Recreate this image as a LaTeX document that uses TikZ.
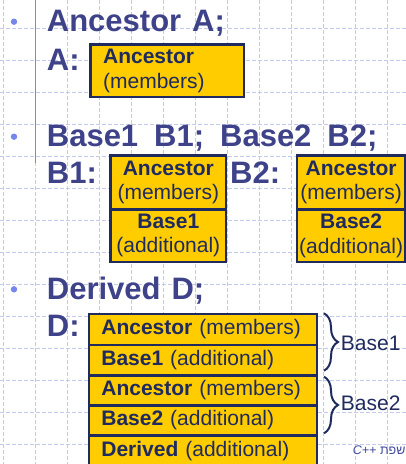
\documentclass[tikz,border=0pt]{standalone}
\usepackage{fontspec}
\setmainfont{Liberation Sans}
\newfontfamily\headfont{Liberation Sans}
\newfontfamily\hebfont[Script=Hebrew]{Liberation Sans}
\TeXXeTstate=1
\usetikzlibrary{decorations.pathreplacing}

% heading faces with adjusted word spacing
\newcommand\headnarrow{\headfont\fontsize{31}{31}\selectfont\bfseries\spaceskip=11pt\relax}
\newcommand\headwide{\headfont\fontsize{31}{31}\selectfont\bfseries\spaceskip=16pt\relax}

\definecolor{gridc}{HTML}{C3CAEC}
\definecolor{headc}{HTML}{3E4289}
\definecolor{navy}{HTML}{1F2A5E}
\definecolor{boxfill}{HTML}{FFCC00}
\definecolor{rulec}{HTML}{7B87E6}
\definecolor{dotc}{HTML}{7587EA}
\definecolor{footc}{HTML}{3F4A9E}

\tikzset{
  gridline/.style={draw=gridc, line width=1pt, dash pattern=on 4pt off 2pt},
  heading/.style={anchor=base west, inner sep=0pt, text=headc, font=\headnarrow},
  wideheading/.style={heading, font=\headwide},
  bulletdot/.style={fill=dotc, draw=none},
  cell/.style={draw=navy, line width=2.3pt, fill=boxfill, text=navy,
    inner sep=0pt, anchor=north west, font=\fontsize{21}{24.5}\selectfont},
  stackcell/.style={cell, align=center},
  rowcell/.style={cell, text width=203pt, align=left, minimum width=228pt},
  brace/.style={draw=navy, line width=2pt,
    decorate, decoration={brace, amplitude=14pt}},
  bracelabel/.style={anchor=base west, inner sep=0pt, text=navy,
    font=\fontsize{21}{21}\selectfont},
  footer/.style={anchor=base west, inner sep=0pt, text=footc,
    font=\hebfont\fontsize{12.5}{12.5}\selectfont},
}

\begin{document}
\begin{tikzpicture}[x=1pt, y=-1pt]
  \useasboundingbox (0,0) rectangle (406,464);
  \clip (0,0) rectangle (406,464);

  % background ruled grid
  \foreach \gx in {3.3,35.3,...,403.3}
    \draw[gridline] (\gx,0) -- (\gx,464);
  \foreach \gy in {28.3,60.3,...,460.3}
    \draw[gridline] (0,\gy) -- (406,\gy);

  % margin rule
  \draw[draw=rulec, line width=1.5pt] (35.3,0) -- (35.3,163);

  % bullets
  \fill[bulletdot] (14,21.7) circle (3.2pt);
  \fill[bulletdot] (14,136.7) circle (3.2pt);
  \fill[bulletdot] (14,289.3) circle (3.2pt);

  % headings and labels
  \node[heading] (h1) at (46.7,31.7) {Ancestor A;};
  \node[heading] (la) at (46.7,70) {A:};
  \node[wideheading] (h2) at (46.7,146) {Base1 B1; Base2 B2;};
  \node[heading] (lb1) at (46.7,183.3) {B1:};
  \node[heading] (lb2) at (230,183.3) {B2:};
  \node[heading] (h3) at (46.7,299.3) {Derived D;};
  \node[heading] (ld) at (46.7,336.7) {D:};

  % object A
  \node[cell, minimum width=153.4pt, minimum height=52.7pt,
        text width=128pt, align=left] (a) at (89.3,43.3)
    {\textbf{Ancestor}\\(members)};

  % object B1
  \node[stackcell, minimum width=115.7pt, minimum height=54pt] (b1anc) at (109.3,154.3)
    {\textbf{Ancestor}\\(members)};
  \node[stackcell, minimum width=115.7pt, minimum height=52.4pt] (b1add) at (109.3,208.3)
    {\textbf{Base1}\\(additional)};

  % object B2
  \node[stackcell, minimum width=108pt, minimum height=54pt] (b2anc) at (296,154.3)
    {\textbf{Ancestor}\\(members)};
  \node[stackcell, minimum width=108pt, minimum height=52.4pt] (b2add) at (296,208.3)
    {\textbf{Base2}\\(additional)};

  % object D
  \node[rowcell, minimum height=31.3pt] (d1) at (87.7,312.7) {\textbf{Ancestor} (members)};
  \node[rowcell, minimum height=30.3pt] (d2) at (87.7,344) {\textbf{Base1} (additional)};
  \node[rowcell, minimum height=30pt] (d3) at (87.7,374.3) {\textbf{Ancestor} (members)};
  \node[rowcell, minimum height=30pt] (d4) at (87.7,404.3) {\textbf{Base2} (additional)};
  \node[rowcell, minimum height=32pt] (d5) at (87.7,434.3) {\textbf{Derived} (additional)};

  % sub-object braces
  \coordinate (br1top) at (324,313.3);
  \coordinate (br1bot) at (324,370.7);
  \coordinate (br2top) at (324,376.7);
  \coordinate (br2bot) at (324,433.3);
  \draw[brace] (br1top) -- (br1bot);
  \draw[brace] (br2top) -- (br2bot);
  \node[bracelabel] (base1lbl) at (340.7,350) {Base1};
  \node[bracelabel] (base2lbl) at (340.7,410) {Base2};

  % slide footer
  \node[footer] (foot) at (352.7,454)
    {\beginR שפת \beginL\textit{C++}\endL\endR};
\end{tikzpicture}
\end{document}
